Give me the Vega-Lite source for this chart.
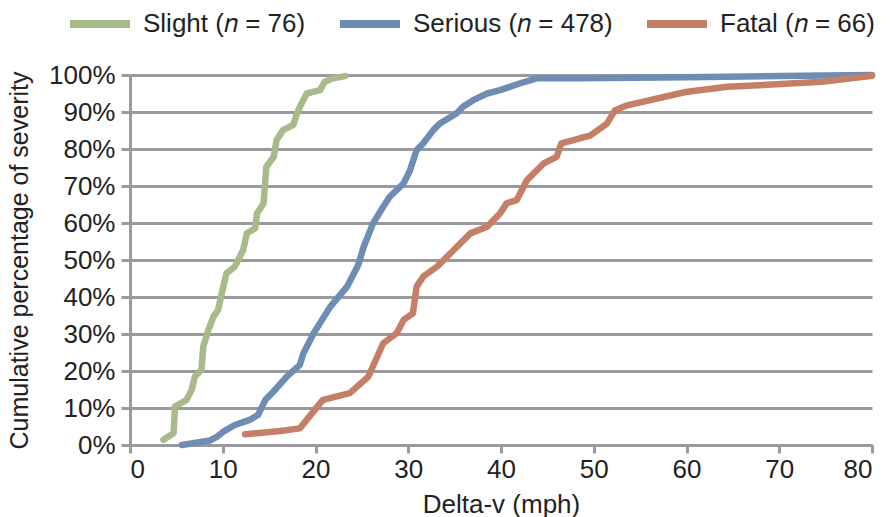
{
  "$schema": "https://vega.github.io/schema/vega-lite/v6.json",
  "width": 742,
  "height": 370,
  "autosize": {"type": "none"},
  "padding": {"left": 130, "top": 75, "right": 18, "bottom": 72},
  "background": "white",
  "config": {
    "font": "Liberation Sans",
    "view": {"stroke": null},
    "axis": {
      "labelFont": "Liberation Sans",
      "titleFont": "Liberation Sans",
      "labelColor": "#222222",
      "titleColor": "#222222",
      "titleFontWeight": "normal",
      "domainColor": "#9a9a9e",
      "domainWidth": 3,
      "tickColor": "#9a9a9e",
      "tickWidth": 3,
      "gridColor": "#9a9a9e",
      "gridWidth": 3
    }
  },
  "data": {
    "values": [
      {"s": "Slight", "x": 3.6, "y": 0.014},
      {"s": "Slight", "x": 4.7, "y": 0.032},
      {"s": "Slight", "x": 4.85, "y": 0.104},
      {"s": "Slight", "x": 6.1, "y": 0.122},
      {"s": "Slight", "x": 6.65, "y": 0.149},
      {"s": "Slight", "x": 7.0, "y": 0.185},
      {"s": "Slight", "x": 7.7, "y": 0.203},
      {"s": "Slight", "x": 7.9, "y": 0.266},
      {"s": "Slight", "x": 8.45, "y": 0.311},
      {"s": "Slight", "x": 9.0, "y": 0.347},
      {"s": "Slight", "x": 9.5, "y": 0.365},
      {"s": "Slight", "x": 9.9, "y": 0.41},
      {"s": "Slight", "x": 10.4, "y": 0.464},
      {"s": "Slight", "x": 11.3, "y": 0.482},
      {"s": "Slight", "x": 12.2, "y": 0.527},
      {"s": "Slight", "x": 12.6, "y": 0.572},
      {"s": "Slight", "x": 13.5, "y": 0.586},
      {"s": "Slight", "x": 13.7, "y": 0.626},
      {"s": "Slight", "x": 14.4, "y": 0.653},
      {"s": "Slight", "x": 14.7, "y": 0.752},
      {"s": "Slight", "x": 15.5, "y": 0.779},
      {"s": "Slight", "x": 15.8, "y": 0.824},
      {"s": "Slight", "x": 16.5, "y": 0.851},
      {"s": "Slight", "x": 17.6, "y": 0.865},
      {"s": "Slight", "x": 18.0, "y": 0.896},
      {"s": "Slight", "x": 18.5, "y": 0.923},
      {"s": "Slight", "x": 19.05, "y": 0.95},
      {"s": "Slight", "x": 20.5, "y": 0.959},
      {"s": "Slight", "x": 21.0, "y": 0.982},
      {"s": "Slight", "x": 21.9, "y": 0.991},
      {"s": "Slight", "x": 23.2, "y": 0.997},
      {"s": "Serious", "x": 5.6, "y": 0.0},
      {"s": "Serious", "x": 8.6, "y": 0.012},
      {"s": "Serious", "x": 9.35, "y": 0.022},
      {"s": "Serious", "x": 10.06, "y": 0.036},
      {"s": "Serious", "x": 11.3, "y": 0.054},
      {"s": "Serious", "x": 12.9, "y": 0.068},
      {"s": "Serious", "x": 13.8, "y": 0.081},
      {"s": "Serious", "x": 14.6, "y": 0.122},
      {"s": "Serious", "x": 15.45, "y": 0.144},
      {"s": "Serious", "x": 16.9, "y": 0.185},
      {"s": "Serious", "x": 18.3, "y": 0.216},
      {"s": "Serious", "x": 18.7, "y": 0.248},
      {"s": "Serious", "x": 19.8, "y": 0.302},
      {"s": "Serious", "x": 21.6, "y": 0.374},
      {"s": "Serious", "x": 23.4, "y": 0.428},
      {"s": "Serious", "x": 24.6, "y": 0.486},
      {"s": "Serious", "x": 25.2, "y": 0.536},
      {"s": "Serious", "x": 26.2, "y": 0.599},
      {"s": "Serious", "x": 27.3, "y": 0.644},
      {"s": "Serious", "x": 28.0, "y": 0.671},
      {"s": "Serious", "x": 29.5, "y": 0.707},
      {"s": "Serious", "x": 30.2, "y": 0.743},
      {"s": "Serious", "x": 30.9, "y": 0.797},
      {"s": "Serious", "x": 31.6, "y": 0.815},
      {"s": "Serious", "x": 32.7, "y": 0.851},
      {"s": "Serious", "x": 33.4, "y": 0.869},
      {"s": "Serious", "x": 35.2, "y": 0.896},
      {"s": "Serious", "x": 35.9, "y": 0.914},
      {"s": "Serious", "x": 37.0, "y": 0.932},
      {"s": "Serious", "x": 38.5, "y": 0.95},
      {"s": "Serious", "x": 39.9, "y": 0.959},
      {"s": "Serious", "x": 42.0, "y": 0.977},
      {"s": "Serious", "x": 43.85, "y": 0.991},
      {"s": "Serious", "x": 48.5, "y": 0.991},
      {"s": "Serious", "x": 60, "y": 0.994},
      {"s": "Serious", "x": 70, "y": 0.997},
      {"s": "Serious", "x": 80, "y": 1.0},
      {"s": "Fatal", "x": 12.4, "y": 0.029},
      {"s": "Fatal", "x": 16.2, "y": 0.038},
      {"s": "Fatal", "x": 18.3, "y": 0.045},
      {"s": "Fatal", "x": 20.8, "y": 0.122},
      {"s": "Fatal", "x": 23.7, "y": 0.14},
      {"s": "Fatal", "x": 25.7, "y": 0.185},
      {"s": "Fatal", "x": 27.3, "y": 0.275},
      {"s": "Fatal", "x": 28.75, "y": 0.302},
      {"s": "Fatal", "x": 29.5, "y": 0.338},
      {"s": "Fatal", "x": 30.5, "y": 0.356},
      {"s": "Fatal", "x": 30.9, "y": 0.428},
      {"s": "Fatal", "x": 31.6, "y": 0.455},
      {"s": "Fatal", "x": 33.1, "y": 0.482},
      {"s": "Fatal", "x": 34.9, "y": 0.527},
      {"s": "Fatal", "x": 36.7, "y": 0.572},
      {"s": "Fatal", "x": 38.5, "y": 0.59},
      {"s": "Fatal", "x": 39.9, "y": 0.626},
      {"s": "Fatal", "x": 40.6, "y": 0.653},
      {"s": "Fatal", "x": 41.7, "y": 0.662},
      {"s": "Fatal", "x": 42.8, "y": 0.716},
      {"s": "Fatal", "x": 44.6, "y": 0.761},
      {"s": "Fatal", "x": 46.0, "y": 0.779},
      {"s": "Fatal", "x": 46.5, "y": 0.815},
      {"s": "Fatal", "x": 48.5, "y": 0.829},
      {"s": "Fatal", "x": 49.6, "y": 0.836},
      {"s": "Fatal", "x": 51.4, "y": 0.868},
      {"s": "Fatal", "x": 52.3, "y": 0.905},
      {"s": "Fatal", "x": 53.6, "y": 0.918},
      {"s": "Fatal", "x": 59.9, "y": 0.954},
      {"s": "Fatal", "x": 64.4, "y": 0.968},
      {"s": "Fatal", "x": 69.7, "y": 0.975},
      {"s": "Fatal", "x": 74.6, "y": 0.982},
      {"s": "Fatal", "x": 80, "y": 0.998}
    ]
  },
  "mark": {"type": "line", "strokeWidth": 6.5, "strokeCap": "round", "strokeJoin": "round", "clip": false},
  "encoding": {
    "x": {
      "field": "x",
      "type": "quantitative",
      "scale": {"domain": [0, 80], "nice": false, "zero": false},
      "axis": {
        "title": "Delta-v (mph)",
        "values": [0, 10, 20, 30, 40, 50, 60, 70, 80],
        "grid": false,
        "tickSize": 8,
        "labelFontSize": 26,
        "titleFontSize": 26,
        "labelPadding": 3,
        "titlePadding": 9
      }
    },
    "y": {
      "field": "y",
      "type": "quantitative",
      "scale": {"domain": [0, 1], "nice": false},
      "axis": {
        "title": "Cumulative percentage of severity",
        "values": [0, 0.1, 0.2, 0.3, 0.4, 0.5, 0.6, 0.7, 0.8, 0.9, 1],
        "format": ".0%",
        "grid": true,
        "tickSize": 9,
        "labelFontSize": 26,
        "titleFontSize": 25,
        "labelPadding": 6,
        "titlePadding": 16
      }
    },
    "color": {
      "field": "s",
      "type": "nominal",
      "sort": ["Slight", "Serious", "Fatal"],
      "scale": {"domain": ["Slight", "Serious", "Fatal"], "range": ["#aab98a", "#6e8db4", "#c57f66"]},
      "legend": {
        "title": null,
        "orient": "none",
        "direction": "horizontal",
        "legendX": -64,
        "legendY": -85,
        "symbolType": "stroke",
        "symbolSize": 3600,
        "symbolStrokeWidth": 8,
        "labelFontSize": 26,
        "labelFont": "Liberation Sans",
        "labelColor": "#222222",
        "labelOffset": 9,
        "labelLimit": 500,
        "columnPadding": 18,
        "labelExpr": "datum.label == 'Slight' ? 'Slight (𝑛 = 76)' : datum.label == 'Serious' ? 'Serious (𝑛 = 478)' : 'Fatal (𝑛 = 66)'"
      }
    }
  }
}
